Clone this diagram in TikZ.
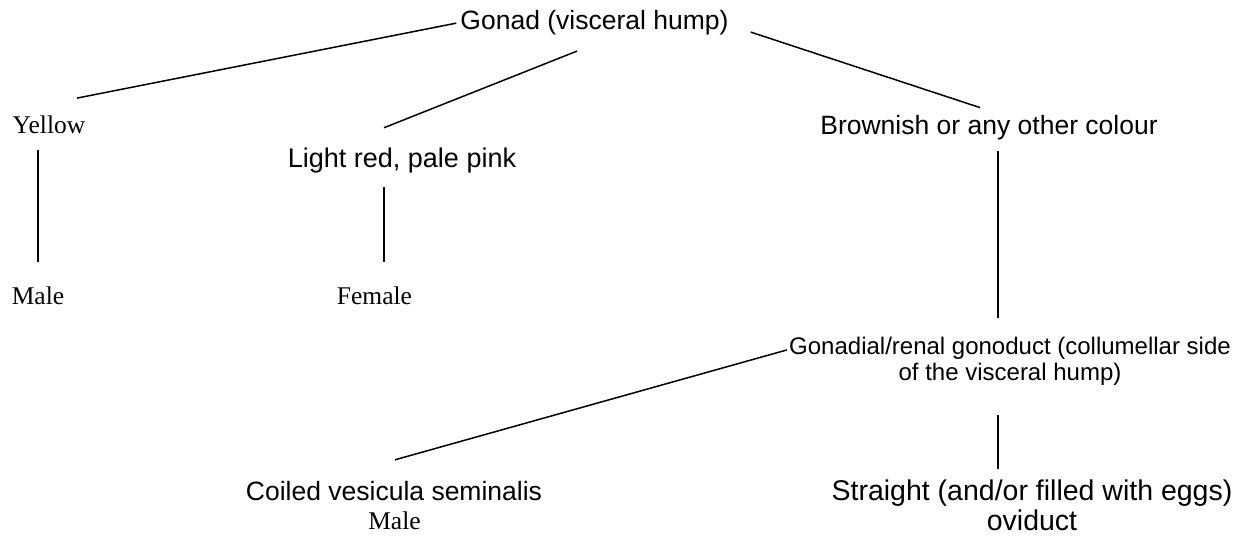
\documentclass[tikz,border=0pt]{standalone}
\usepackage{fontspec}
\setmainfont{Liberation Serif}
\setsansfont{Liberation Sans}
\usepackage{tikz}
\usetikzlibrary{positioning}
\tikzset{>=stealth}
\tikzset{
  lab/.style={inner sep=0pt,anchor=base},
  sanslab/.style={lab,font=\sffamily\fontsize{26.5}{30}\selectfont},
  seriflab/.style={lab,font=\rmfamily\fontsize{25.5}{29}\selectfont},
  link/.style={line width=1.5pt}
}

\begin{document}
\begin{tikzpicture}[x=1pt,y=-1pt]
\useasboundingbox (0,0) rectangle (1246,537);
% first split on colour of the gonad
\node[sanslab] (gonad) at (594.5,30) {Gonad (visceral hump)};
\node[seriflab] (yellow) at (49,134) {Yellow};
\node[sanslab,font=\sffamily\fontsize{27}{30}\selectfont] (lightred) at (402,168) {Light red, pale pink};
\node[sanslab] (brownish) at (989,135) {Brownish or any other colour};
\node[seriflab] (male) at (38,304) {Male};
\node[seriflab] (female) at (374.5,304) {Female};
% brownish gonads: look at the gonoduct (base = last line)
\node[sanslab,align=center,font=\sffamily\fontsize{24}{26}\selectfont] (gonoduct) at (1010,380) {Gonadial/renal gonoduct (collumellar side\\of the visceral hump)};
\node[sanslab] (coiled) at (394,500) {Coiled vesicula seminalis};
\node[seriflab] (malebelow) at (394.5,529) {Male};
\node[sanslab,align=center,font=\sffamily\fontsize{28.5}{30}\selectfont] (straight) at (1032,530) {Straight (and/or filled with eggs)\\oviduct};

\draw[link] ([xshift=-4pt]gonad.west) -- ([xshift=28pt,yshift=18pt]yellow.north);
\draw[link] ([xshift=-17.5pt,yshift=-15.4pt]gonad.south) -- ([xshift=-18pt,yshift=20.5pt]lightred.north);
\draw[link] ([xshift=22pt,yshift=3.6pt]gonad.south east) -- ([xshift=-9pt,yshift=8pt]brownish.north);
\draw[link] ([xshift=-11pt,yshift=-16pt]yellow.south) -- ([yshift=24.6pt]male.north);
\draw[link] ([xshift=-18pt,yshift=-13.3pt]lightred.south) -- ([xshift=9.5pt,yshift=24.6pt]female.north);
\draw[link] ([xshift=9pt,yshift=-10.4pt]brownish.south) -- ([xshift=-12pt,yshift=18.5pt]gonoduct.north);
\draw[link] ([xshift=-2pt,yshift=-13.5pt]gonoduct.north west) -- ([xshift=1pt,yshift=20.8pt]coiled.north);
\draw[link] ([xshift=-12pt,yshift=-30pt]gonoduct.south) -- ([xshift=-34pt,yshift=10pt]straight.north);
\end{tikzpicture}
\end{document}
